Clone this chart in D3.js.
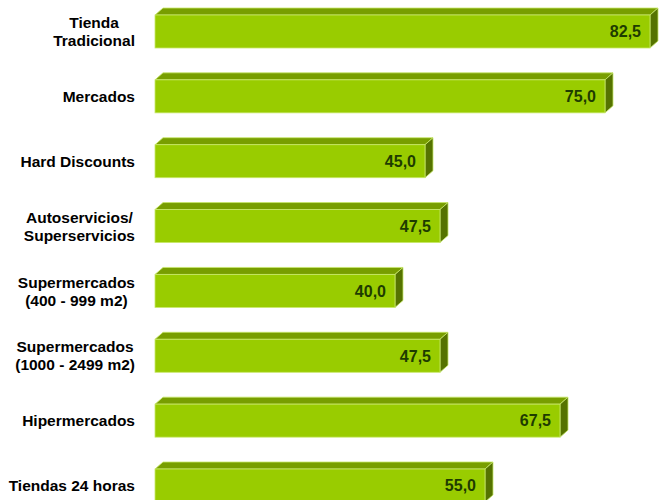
<!DOCTYPE html>
<html>
<head>
<meta charset="utf-8">
<script src="https://cdn.jsdelivr.net/npm/d3@7"></script>
<style>
  body { margin: 0; background: #fff; }
  svg { display: block; font-family: 'Liberation Sans', Arial, sans-serif; }
</style>
</head>
<body>
<svg id="chart"></svg>
<script>
const categories = [
  ['Tienda', 'Tradicional'],
  ['Mercados'],
  ['Hard Discounts'],
  ['Autoservicios/', 'Superservicios'],
  ['Supermercados', '(400 - 999 m2)'],
  ['Supermercados', '(1000 - 2499 m2)'],
  ['Hipermercados'],
  ['Tiendas 24 horas']
]
const values = [82.5, 75.0, 45.0, 47.5, 40.0, 47.5, 67.5, 55.0]

const w = 659
const h = 500
const barH = 33
const dx = 8
const dy = 7

const svg = d3.select('#chart')
  .attr('width', w)
  .attr('height', h)

const xScale = d3.scaleLinear()
                 .domain([0, 100])
                 .range([155, 755])

const yScale = d3.scalePoint()
                 .domain(d3.range(categories.length))
                 .range([31.5, 485.5])

const fmt = v => d3.format('.1f')(v).replace('.', ',')

const bars = svg.selectAll('g.bar')
  .data(values)
  .enter()
  .append('g')
    .attr('class', 'bar')

// top face
bars.append('path')
  .attr('d', (d, i) => {
    const x0 = xScale(0), x1 = xScale(d), y = yScale(i) - barH / 2
    return `M${x0},${y}L${x0 + dx},${y - dy}L${x1 + dx},${y - dy}L${x1},${y}Z`
  })
  .attr('fill', '#789e00')
  .attr('stroke', '#c8e86a')
  .attr('stroke-width', 0.8)

// side face
bars.append('path')
  .attr('d', (d, i) => {
    const x1 = xScale(d), y = yScale(i) - barH / 2
    return `M${x1},${y}L${x1 + dx},${y - dy}L${x1 + dx},${y - dy + barH}L${x1},${y + barH}Z`
  })
  .attr('fill', '#557300')
  .attr('stroke', '#c8e86a')
  .attr('stroke-width', 0.8)

// front face
bars.append('rect')
  .attr('x', xScale(0))
  .attr('y', (d, i) => yScale(i) - barH / 2)
  .attr('width', d => xScale(d) - xScale(0))
  .attr('height', barH)
  .attr('fill', '#99cc00')
  .attr('stroke', '#c8e86a')
  .attr('stroke-width', 0.8)

bars.append('text')
  .attr('x', d => xScale(d) - 9)
  .attr('y', (d, i) => yScale(i))
  .attr('dy', '0.36em')
  .attr('text-anchor', 'end')
  .attr('font-size', 16)
  .attr('font-weight', 'bold')
  .attr('fill', '#1e3c00')
  .text(d => fmt(d))

// category labels: lines centred on each other, block right-aligned
const labels = svg.selectAll('g.label')
  .data(categories)
  .enter()
  .append('g')
    .attr('class', 'label')

labels.each(function (lines, i) {
  const g = d3.select(this)
  const lh = 18
  const texts = lines.map((s, k) => g.append('text')
    .attr('y', yScale(i) + (k - (lines.length - 1) / 2) * lh)
    .attr('dy', '0.36em')
    .attr('text-anchor', 'middle')
    .attr('font-size', 15.5)
    .attr('font-weight', 'bold')
    .attr('fill', '#000')
    .text(s))
  const maxW = d3.max(texts, t => t.node().getComputedTextLength())
  texts.forEach(t => t.attr('x', 135 - maxW / 2))
})
</script>
</body>
</html>
